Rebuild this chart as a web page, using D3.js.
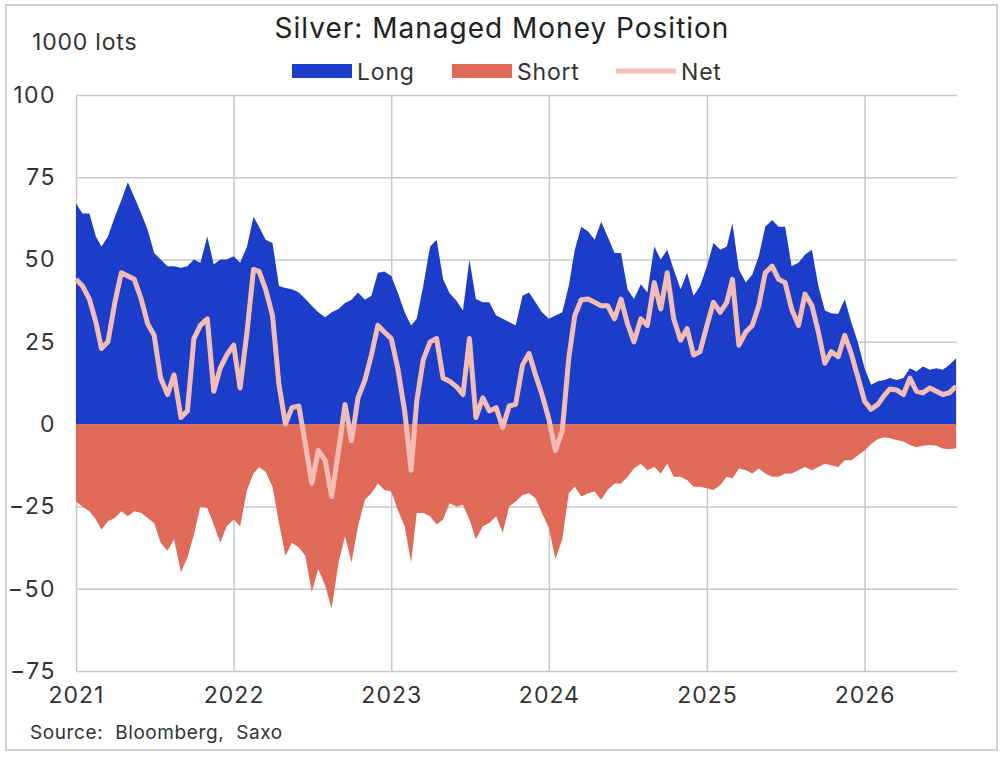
<!DOCTYPE html>
<html>
<head>
<meta charset="utf-8">
<script src="https://cdn.jsdelivr.net/npm/d3@7"></script>
<style>
  body { margin: 0; background: #fff; }
  text { font-family: Inter, "Noto Sans", sans-serif; }
</style>
</head>
<body>
<svg id="chart" width="1006" height="760"></svg>
<script>
// semi-monthly samples (1000 lots)
const dates = [
  "2021-01-01","2021-01-16","2021-02-01","2021-02-16","2021-03-01","2021-03-16","2021-04-01","2021-04-16","2021-05-01","2021-05-16","2021-06-01","2021-06-16",
  "2021-07-01","2021-07-16","2021-08-01","2021-08-16","2021-09-01","2021-09-16","2021-10-01","2021-10-16","2021-11-01","2021-11-16","2021-12-01","2021-12-16",
  "2022-01-01","2022-01-16","2022-02-01","2022-02-16","2022-03-01","2022-03-16","2022-04-01","2022-04-16","2022-05-01","2022-05-16","2022-06-01","2022-06-16",
  "2022-07-01","2022-07-16","2022-08-01","2022-08-16","2022-09-01","2022-09-16","2022-10-01","2022-10-16","2022-11-01","2022-11-16","2022-12-01","2022-12-16",
  "2023-01-01","2023-01-16","2023-02-01","2023-02-16","2023-03-01","2023-03-16","2023-04-01","2023-04-16","2023-05-01","2023-05-16","2023-06-01","2023-06-16",
  "2023-07-01","2023-07-16","2023-08-01","2023-08-16","2023-09-01","2023-09-16","2023-10-01","2023-10-16","2023-11-01","2023-11-16","2023-12-01","2023-12-16",
  "2024-01-01","2024-01-16","2024-02-01","2024-02-16","2024-03-01","2024-03-16","2024-04-01","2024-04-16","2024-05-01","2024-05-16","2024-06-01","2024-06-16",
  "2024-07-01","2024-07-16","2024-08-01","2024-08-16","2024-09-01","2024-09-16","2024-10-01","2024-10-16","2024-11-01","2024-11-16","2024-12-01","2024-12-16",
  "2025-01-01","2025-01-16","2025-02-01","2025-02-16","2025-03-01","2025-03-16","2025-04-01","2025-04-16","2025-05-01","2025-05-16","2025-06-01","2025-06-16",
  "2025-07-01","2025-07-16","2025-08-01","2025-08-16","2025-09-01","2025-09-16","2025-10-01","2025-10-16","2025-11-01","2025-11-16","2025-12-01","2025-12-16",
  "2026-01-01","2026-01-16","2026-02-01","2026-02-16","2026-03-01","2026-03-16","2026-04-01","2026-04-16","2026-05-01","2026-05-16","2026-06-01","2026-06-16",
  "2026-07-01","2026-07-16","2026-08-01"
];

const longPos = [
  67, 64, 64, 57, 54, 57, 63, 68, 73.5, 69,
  64, 59, 52, 50, 48, 48, 47.5, 48, 50, 49,
  57, 48.5, 50, 50, 51, 49, 54, 63, 60, 56,
  55, 42, 41.4, 41, 40, 38, 36, 34, 32.5, 34,
  35, 36.8, 37.8, 40, 37.8, 39, 46, 46.4, 45, 40,
  34, 30, 32, 42, 54, 56, 44, 39.8, 37.5, 34.5,
  50, 38, 37, 37, 33, 32, 31, 30, 39, 40,
  37, 34, 32, 33, 34, 42, 53, 60, 58.5, 56,
  61.5, 57, 52, 52, 41, 38, 42.5, 40, 54, 50,
  53, 47, 41, 46, 39, 42, 48, 55, 53, 54,
  61, 47, 43, 45.5, 51, 60, 62, 60, 60, 48,
  49, 51.5, 53, 42, 34.5, 33.7, 33.5, 38, 31, 25,
  17, 12, 13, 13.4, 14, 13.4, 14, 17, 16, 17.5,
  16.5, 17, 16.5, 18, 20
];

const shortPos = [
  -23.5, -25, -26.5, -29, -32, -29.5, -28.5, -26.5, -28, -26.5,
  -27, -28.5, -30, -36, -38.5, -35, -45, -40.5, -33.5, -25,
  -25.5, -30.5, -36, -31, -29, -31, -20, -15, -13, -14.5,
  -19, -30, -40, -36, -37.5, -40, -51, -44, -49, -56,
  -42, -34, -42, -31, -23, -21, -18, -20, -20.5, -26,
  -31, -42, -27, -27, -28, -30.5, -29, -24, -25, -24.5,
  -29, -35, -31, -30, -28, -33, -25, -23.5, -21.5, -21,
  -22.5, -27, -31.5, -41, -35, -21, -19, -22, -21, -20.5,
  -23, -20, -18, -18, -16, -13.5, -12, -14, -13, -15,
  -12, -16, -16, -17, -19, -19, -19.5, -20, -18.5, -16,
  -16.5, -13.5, -14, -15, -13.5, -15, -16, -16, -15, -15,
  -14, -13, -14, -13, -12, -12.5, -13, -11, -11, -9.5,
  -8, -6, -4.5, -4, -4.3, -4.8, -5.3, -6.3, -7, -6.6,
  -6.3, -6.6, -7.4, -7.6, -7.3
];

const netPos = [
  44, 42, 38, 31, 23, 25, 37, 46, 45, 44,
  38, 30.5, 27, 14, 9, 15, 2, 4, 26, 30,
  32, 10, 17, 21, 24, 11, 28, 47, 46.4, 41,
  33, 12, 0, 5, 5.5, -6, -18, -8, -11, -22,
  -8, 6, -5, 8, 13.4, 21, 30, 28, 26, 17,
  4, -14, 7, 19.5, 25, 26, 14, 13, 11.4, 9,
  26, 2, 8, 4, 5, -1, 5.5, 6, 18, 21.5,
  15, 9, 1.5, -8, -2, 20, 33, 37.8, 38, 37,
  36, 36, 32, 38, 30.5, 25, 32, 30, 43, 35,
  46, 32, 25.5, 29, 21, 22, 30, 37, 34, 37,
  44, 24, 28, 30, 36, 46, 48, 44, 43, 35,
  30, 39.5, 36, 28, 18.5, 22, 20.5, 27, 21.5, 14.5,
  7, 4.5, 6, 8.8, 10.7, 10.4, 9, 14, 10, 9.5,
  11, 10, 9, 9.5, 11.5
];

const yTicks = [-75, -50, -25, 0, 25, 50, 75, 100];
const yearTicks = ["2021-01-01", "2022-01-01", "2023-01-01", "2024-01-01", "2025-01-01", "2026-01-01"];
const seriesNames = ["Long", "Short", "Net"];

const parseDate = d3.timeParse("%Y-%m-%d");
const data = dates.map((d, i) => ({
  date: parseDate(d),
  long: longPos[i],
  short: shortPos[i],
  net: netPos[i]
}));

const colors = { Long: "#1b3dc9", Short: "#e06a58", Net: "#f3bdb6" };

const plotLeft = 76, plotRight = 957, plotTop = 95, plotBottom = 671;

const svg = d3.select("#chart");

// outer frame
svg.append("rect")
  .attr("x", 6).attr("y", 5)
  .attr("width", 991).attr("height", 745)
  .attr("fill", "#fff")
  .attr("stroke", "#cfcfcf")
  .attr("stroke-width", 2);

const x = d3.scaleTime()
  .domain([parseDate("2021-01-01"), parseDate("2026-08-03")])
  .range([plotLeft, plotRight]);

const y = d3.scaleLinear()
  .domain([-75, 100])
  .range([plotBottom, plotTop]);

// grid + axes
const yAxis = d3.axisLeft(y)
  .tickValues(yTicks)
  .tickSize(-(plotRight - plotLeft))
  .tickPadding(20);

svg.append("g")
  .attr("class", "y-axis")
  .attr("transform", "translate(" + plotLeft + ",0)")
  .call(yAxis)
  .call(g => g.select(".domain").remove())
  .call(g => g.selectAll("line").attr("stroke", "#c8c8c8").attr("stroke-width", 1.5))
  .call(g => g.selectAll("text").attr("fill", "#333")
    .style("font-size", "23px").style("letter-spacing", "1.5px"));

const xAxis = d3.axisBottom(x)
  .tickValues(yearTicks.map(parseDate))
  .tickFormat(d3.timeFormat("%Y"))
  .tickSize(-(plotBottom - plotTop))
  .tickPadding(16);

svg.append("g")
  .attr("class", "x-axis")
  .attr("transform", "translate(0," + plotBottom + ")")
  .call(xAxis)
  .call(g => g.select(".domain").remove())
  .call(g => g.selectAll("line").attr("stroke", "#c8c8c8").attr("stroke-width", 1.5))
  .call(g => g.selectAll("text").attr("fill", "#333")
    .style("font-size", "23px").style("letter-spacing", "1px"));

// areas
const longArea = d3.area()
  .x(d => x(d.date))
  .y0(y(0))
  .y1(d => y(d.long));

const shortArea = d3.area()
  .x(d => x(d.date))
  .y0(y(0))
  .y1(d => y(d.short));

const netLine = d3.line()
  .x(d => x(d.date))
  .y(d => y(d.net));

svg.append("path")
  .datum(data)
  .attr("d", longArea)
  .attr("fill", colors.Long);

svg.append("path")
  .datum(data)
  .attr("d", shortArea)
  .attr("fill", colors.Short);

svg.append("path")
  .datum(data)
  .attr("d", netLine)
  .attr("fill", "none")
  .attr("stroke", colors.Net)
  .attr("stroke-width", 5)
  .attr("stroke-linejoin", "round");

// title and labels
svg.append("text")
  .text("Silver: Managed Money Position")
  .attr("x", 502).attr("y", 38)
  .attr("text-anchor", "middle")
  .attr("fill", "#222")
  .style("font-size", "28px")
  .style("letter-spacing", "1px");

svg.append("text")
  .text("1000 lots")
  .attr("x", 32).attr("y", 50)
  .attr("fill", "#333")
  .style("font-size", "23px")
  .style("letter-spacing", "0.8px");

svg.append("text")
  .text("Source:  Bloomberg,  Saxo")
  .attr("x", 30).attr("y", 739)
  .attr("fill", "#333")
  .style("white-space", "pre")
  .style("font-size", "19px")
  .style("letter-spacing", "0.6px");

// legend
const legendItems = [
  { name: seriesNames[0], x: 292, type: "rect" },
  { name: seriesNames[1], x: 452, type: "rect" },
  { name: seriesNames[2], x: 616, type: "line" }
];

const legend = svg.append("g").attr("class", "legend");

legendItems.forEach(item => {
  if (item.type === "rect") {
    legend.append("rect")
      .attr("x", item.x).attr("y", 64)
      .attr("width", 60).attr("height", 14)
      .attr("fill", colors[item.name]);
  } else {
    legend.append("line")
      .attr("x1", item.x).attr("x2", item.x + 60)
      .attr("y1", 71).attr("y2", 71)
      .attr("stroke", colors[item.name])
      .attr("stroke-width", 5);
  }
  legend.append("text")
    .text(item.name)
    .attr("x", item.x + 65).attr("y", 80)
    .attr("fill", "#333")
    .style("font-size", "23px")
    .style("letter-spacing", "0.8px");
});
</script>
</body>
</html>
